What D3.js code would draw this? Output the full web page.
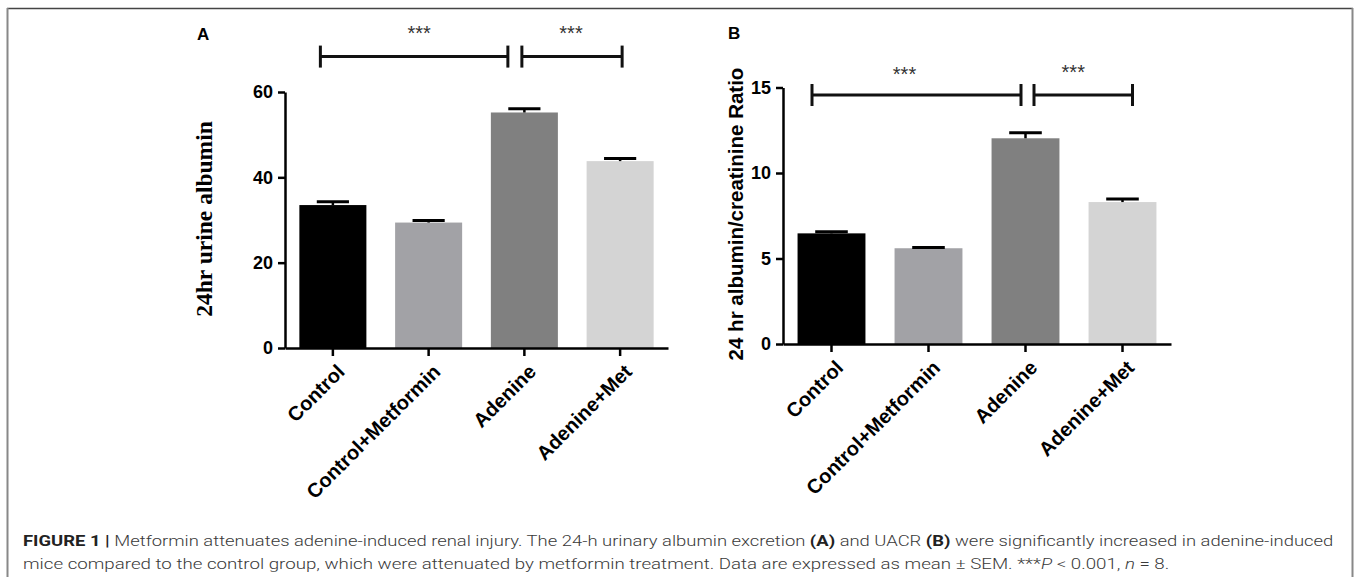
<!DOCTYPE html>
<html><head><meta charset="utf-8">
<script src="https://cdn.jsdelivr.net/npm/d3@7/dist/d3.min.js"></script>
<style>
html,body{margin:0;padding:0;background:#fff;}
svg{display:block;}
</style></head>
<body>
<svg id="chart" width="1357" height="577"></svg>
<script>
// ---------- data ----------
const categories = ["Control", "Control+Metformin", "Adenine", "Adenine+Met"];
const albuminMean = [33.5, 29.4, 55.2, 43.8];
const albuminSEM  = [0.8, 0.5, 0.9, 0.6];
const uacrMean    = [6.47, 5.6, 12.03, 8.3];
const uacrSEM     = [0.1, 0.05, 0.33, 0.18];
const albuminTicks = [0, 20, 40, 60];
const uacrTicks    = [0, 5, 10, 15];
const barColors = ["#000000", "#a2a2a6", "#808080", "#d4d4d4"];
const sigLabel = "***";
// brackets: [fromCategory, toCategory]
const albuminBrackets = [["Control", "Adenine"], ["Adenine", "Adenine+Met"]];
const uacrBrackets    = [["Control", "Adenine"], ["Adenine", "Adenine+Met"]];
const captionLine1 = [
  {t: "FIGURE 1 | ", b: true},
  {t: "Metformin attenuates adenine-induced renal injury. The 24-h urinary albumin excretion "},
  {t: "(A)", b: true},
  {t: " and UACR "},
  {t: "(B)", b: true},
  {t: " were significantly increased in adenine-induced"}
];
const captionLine2 = [
  {t: "mice compared to the control group, which were attenuated by metformin treatment. Data are expressed as mean \u00B1 SEM. ***"},
  {t: "P", i: true},
  {t: " < 0.001, "},
  {t: "n", i: true},
  {t: " = 8."}
];

const svg = d3.select("#chart");

// frame
svg.append("line").attr("x1", 7).attr("x2", 1353).attr("y1", 8.5).attr("y2", 8.5)
  .attr("stroke", "#444").attr("stroke-width", 1.6);
svg.append("line").attr("x1", 7.5).attr("x2", 7.5).attr("y1", 8).attr("y2", 577)
  .attr("stroke", "#888").attr("stroke-width", 2);
svg.append("line").attr("x1", 1352.5).attr("x2", 1352.5).attr("y1", 8).attr("y2", 577)
  .attr("stroke", "#888").attr("stroke-width", 2);

function panel(cfg) {
  const g = svg.append("g");
  const x = d3.scaleBand().domain(categories).range([cfg.left, cfg.right])
    .paddingInner(0.3).paddingOuter(0.15);
  const y = d3.scaleLinear().domain([0, cfg.ticks[cfg.ticks.length - 1]])
    .range([cfg.bottom, cfg.top]);

  // bars
  g.selectAll("rect.bar").data(categories).join("rect")
    .attr("x", d => x(d)).attr("width", x.bandwidth())
    .attr("y", (d, i) => y(cfg.mean[i]))
    .attr("height", (d, i) => y(0) - y(cfg.mean[i]))
    .attr("fill", (d, i) => barColors[i]);

  // error bars (upper)
  const capW = x.bandwidth() * 0.48;
  g.selectAll("line.err").data(categories).join("line")
    .attr("x1", d => x(d) + x.bandwidth() / 2).attr("x2", d => x(d) + x.bandwidth() / 2)
    .attr("y1", (d, i) => y(cfg.mean[i])).attr("y2", (d, i) => y(cfg.mean[i] + cfg.sem[i]))
    .attr("stroke", "#000").attr("stroke-width", 2.5);
  g.selectAll("line.cap").data(categories).join("line")
    .attr("x1", d => x(d) + x.bandwidth() / 2 - capW / 2)
    .attr("x2", d => x(d) + x.bandwidth() / 2 + capW / 2)
    .attr("y1", (d, i) => y(cfg.mean[i] + cfg.sem[i])).attr("y2", (d, i) => y(cfg.mean[i] + cfg.sem[i]))
    .attr("stroke", "#000").attr("stroke-width", 3);

  // y axis
  const ya = g.append("g").attr("transform", `translate(${cfg.left},0)`)
    .call(d3.axisLeft(y).tickValues(cfg.ticks).tickSize(7).tickSizeOuter(0).tickPadding(5));
  ya.select(".domain").attr("stroke-width", 2.5).attr("stroke", "#000");
  ya.selectAll(".tick line").attr("stroke-width", 2.5).attr("stroke", "#000");
  ya.selectAll(".tick text").attr("font-family", "Liberation Sans, Arial, sans-serif")
    .attr("font-weight", "bold").attr("font-size", 18).attr("fill", "#000");

  // x axis
  const xa = g.append("g").attr("transform", `translate(0,${cfg.bottom})`)
    .call(d3.axisBottom(x).tickSize(8).tickSizeOuter(0).tickPadding(0));
  xa.select(".domain").attr("stroke-width", 2.5).attr("stroke", "#000");
  xa.selectAll(".tick line").attr("stroke-width", 2.5).attr("stroke", "#000");
  xa.selectAll(".tick text").attr("font-family", "Liberation Sans, Arial, sans-serif")
    .attr("font-weight", "bold").attr("font-size", 20).attr("fill", "#000")
    .attr("text-anchor", "end").attr("dy", null).attr("y", 0)
    .attr("transform", "translate(13,25) rotate(-45)");

  // y title
  g.append("text")
    .attr("transform", `translate(${cfg.titleX},${cfg.titleY}) rotate(-90)`)
    .attr("text-anchor", "middle")
    .attr("font-family", cfg.titleFamily).attr("font-weight", "bold")
    .attr("font-size", cfg.titleSize).attr("fill", "#000")
    .text(cfg.title);

  // panel letter
  g.append("text").attr("x", cfg.letterX).attr("y", cfg.letterY)
    .attr("font-family", "Liberation Sans, Arial, sans-serif").attr("font-weight", "bold")
    .attr("font-size", 17).attr("fill", "#000").text(cfg.letter);

  // significance brackets
  cfg.brackets.forEach((b, k) => {
    const off = cfg.bracketOffsets[k];
    const x1 = x(b[0]) + x.bandwidth() / 2 + off[0];
    const x2 = x(b[1]) + x.bandwidth() / 2 + off[1];
    const yb = y(cfg.bracketValue);
    const bg = g.append("g").attr("stroke", "#111").attr("stroke-width", 3);
    bg.append("line").attr("x1", x1).attr("x2", x2).attr("y1", yb).attr("y2", yb);
    bg.append("line").attr("x1", x1).attr("x2", x1).attr("y1", yb - 11).attr("y2", yb + 11);
    bg.append("line").attr("x1", x2).attr("x2", x2).attr("y1", yb - 11).attr("y2", yb + 11);
    g.append("text").attr("x", (x1 + x2) / 2 + cfg.starDx[k]).attr("y", yb - cfg.starGap[k])
      .attr("text-anchor", "middle").attr("font-family", "Liberation Sans, Arial, sans-serif")
      .attr("font-size", 20).attr("fill", "#333").text(sigLabel);
  });
}

panel({
  left: 285, right: 668, top: 92, bottom: 348,
  mean: albuminMean, sem: albuminSEM, ticks: albuminTicks,
  title: "24hr urine albumin", titleFamily: "Liberation Serif, Times New Roman, serif",
  titleSize: 23.5, titleX: 212, titleY: 219,
  letter: "A", letterX: 197, letterY: 40,
  brackets: albuminBrackets, bracketValue: 68.3,
  bracketOffsets: [[-12.5, -16.5], [-2.5, 2]],
  starDx: [5, -1], starGap: [16.7, 16.7]
});

panel({
  left: 783, right: 1171, top: 87.5, bottom: 344,
  mean: uacrMean, sem: uacrSEM, ticks: uacrTicks,
  title: "24 hr albumin/creatinine Ratio", titleFamily: "Liberation Sans, Arial, sans-serif",
  titleSize: 20.5, titleX: 743, titleY: 214,
  letter: "B", letterX: 728, letterY: 39,
  brackets: uacrBrackets, bracketValue: 14.56,
  bracketOffsets: [[-19.5, -4.5], [8.5, 10]],
  starDx: [-12, -10], starGap: [13.6, 16.1]
});

// caption
function captionLine(parts, yBase, x0, x1) {
  const t = svg.append("text").attr("x", 0).attr("y", 0)
    .attr("font-family", "Liberation Sans Narrow, Roboto, Liberation Sans, sans-serif")
    .attr("font-weight", 300)
    .attr("font-size", 15.5).attr("fill", "#3a3a3a");
  parts.forEach(p => {
    t.append("tspan").text(p.t)
      .attr("font-weight", p.b ? "bold" : null)
      .attr("font-style", p.i ? "italic" : null)
      .attr("fill", p.b ? "#222" : null);
  });
  const w = t.node().getComputedTextLength();
  t.attr("transform", `translate(${x0},${yBase}) scale(${(x1 - x0) / w},1)`);
}
captionLine(captionLine1, 546, 23, 1334);
captionLine(captionLine2, 569, 23, 1170);
</script>
</body></html>
